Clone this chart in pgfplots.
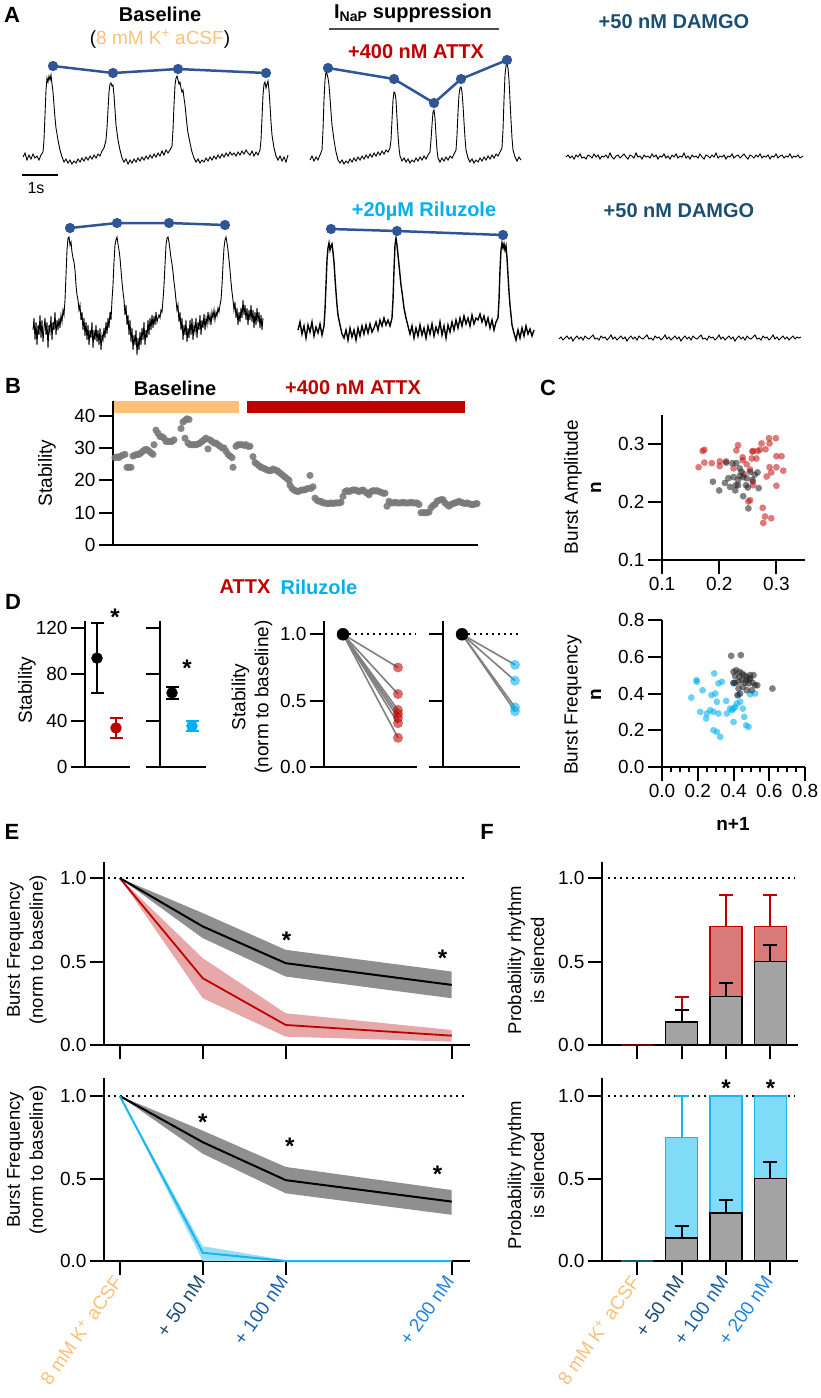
\documentclass[border=0pt]{standalone}
\usepackage{fontspec}
\setmainfont{Liberation Sans}
\usepackage{pgfplots}
\pgfplotsset{compat=1.18}
\newcommand\fs[1]{\fontsize{#1}{#1}\selectfont}
\definecolor{attx}{HTML}{C00000}
\definecolor{rilu}{HTML}{00B0F0}
\definecolor{ora}{HTML}{FDC07A}
\definecolor{damgo}{HTML}{1B4F72}
\definecolor{mblue}{HTML}{2F5597}
\definecolor{cfifty}{HTML}{1B4B6E}
\definecolor{chund}{HTML}{1A5FA8}
\definecolor{ctwo}{HTML}{1E86DE}
\definecolor{gband}{HTML}{8F8F8F}
\definecolor{rband}{HTML}{E6A8A8}
\definecolor{cband}{HTML}{9ADDF6}
\definecolor{gbar}{HTML}{A3A3A3}
\definecolor{rbar}{HTML}{D97A7A}
\definecolor{cbar}{HTML}{80DBF9}
\definecolor{cedge}{HTML}{1AB6F0}
\definecolor{lgray}{HTML}{808080}
\pgfplotsset{
  gp/.style={scale only axis, axis lines=left, axis line style={-, line width=2pt},
    tick style={line width=2pt, black}, tick align=outside, major tick length=14pt,
    tick label style={font=\fs{19}}, clip=false, enlargelimits=false, anchor=south west},
  fbar/.style={ybar, bar width=32pt, bar shift=0pt},
  ebar/.style={error bars/.cd, y dir=plus, y explicit, error bar style={line width=2pt, #1},
    error mark options={rotate=90, mark size=7pt, line width=2pt, #1}},
  dots/.style 2 args={only marks, mark=*, mark size=#1, mark options={fill=#2, draw=#2, fill opacity=0.58, draw opacity=0}},
}
\tikzset{star/.style={font=\fs{24}\bfseries, anchor=base, yshift=-13.5pt, inner sep=0pt},
  dline/.style={line width=2pt, dash pattern=on 1.8pt off 4.2pt},
  twol/.style={rotate=90, align=center, font={\fontsize{18.5}{23}\selectfont}}}
\begin{document}
\begin{tikzpicture}
\path[use as bounding box] (0pt,0pt) rectangle (820pt,-1398pt);
% ================= A
\begin{axis}[at={(410pt,-180pt)}, anchor=center, scale only axis, width=820pt, height=360pt,
  xmin=0,xmax=820,ymin=0,ymax=360, y dir=reverse, axis lines=none, clip=false]
\addplot[black, line width=0.9pt] coordinates {(23,157)(25,153)(27,160)(29,155)(31,159)(33,154)(35,158)(37,156)(39,160)(41,155)(43,152)(44,140)(45,115)(46,90)(47,78)(48,82)(49,76)(50,80)(51,75)(52,84)(53,92)(54,105)(55,118)(56,128)(58,140)(60,150)(62,157)(64,162)(66,159)(68,163)(70,160)(72,164)(74,161)(76,163)(78,159)(80,162)(82,158)(84,161)(86,157)(88,160)(90,156)(92,159)(94,155)(96,158)(98,154)(100,156)(102,151)(104,148)(106,140)(107,128)(108,110)(109,92)(110,84)(111,83)(112,86)(113,85)(114,95)(115,110)(116,125)(118,140)(120,150)(122,158)(124,162)(126,159)(128,164)(130,160)(132,163)(134,159)(136,162)(138,158)(140,161)(142,157)(144,160)(146,156)(148,159)(150,155)(152,158)(154,154)(156,157)(158,153)(160,156)(162,151)(164,155)(166,150)(168,153)(170,150)(172,146)(173,130)(174,105)(175,85)(176,78)(177,76)(178,80)(179,84)(180,82)(181,88)(182,92)(183,90)(184,98)(185,105)(186,115)(187,125)(188,133)(190,143)(192,152)(194,158)(196,162)(198,159)(200,163)(202,160)(204,162)(206,158)(208,161)(210,157)(212,160)(214,156)(216,159)(218,155)(220,158)(222,154)(224,157)(226,153)(228,156)(230,152)(232,155)(234,153)(236,156)(238,152)(240,155)(242,151)(244,154)(246,150)(248,153)(250,155)(252,151)(254,156)(256,152)(258,155)(260,150)(261,140)(262,118)(263,95)(264,84)(265,82)(266,88)(267,84)(268,81)(269,90)(270,105)(271,122)(272,135)(274,148)(276,156)(278,160)(280,156)(282,161)(284,157)(286,162)(288,155)};
\addplot[black, line width=0.9pt] coordinates {(310,160)(312,156)(314,161)(316,157)(318,160)(320,155)(322,150)(323,130)(324,100)(325,80)(326,72)(327,74)(328,78)(329,85)(330,98)(331,112)(332,125)(334,140)(336,152)(338,160)(340,163)(342,160)(344,164)(346,161)(348,163)(350,159)(352,162)(354,158)(356,161)(358,157)(360,160)(362,156)(364,159)(366,155)(368,158)(370,154)(372,157)(374,153)(376,156)(378,152)(380,155)(382,151)(384,154)(386,150)(388,152)(390,148)(391,140)(392,120)(393,100)(394,92)(395,93)(396,100)(397,118)(398,135)(399,148)(400,156)(402,161)(404,158)(406,162)(408,159)(410,163)(412,160)(414,162)(416,158)(418,161)(420,157)(422,160)(424,156)(426,159)(428,155)(430,152)(431,140)(432,125)(433,112)(434,110)(435,118)(436,135)(437,150)(438,158)(440,162)(442,158)(444,161)(446,157)(448,160)(450,156)(452,158)(454,154)(456,150)(457,135)(458,112)(459,95)(460,88)(461,87)(462,92)(463,105)(464,122)(465,138)(466,150)(468,158)(470,162)(472,159)(474,163)(476,160)(478,162)(480,158)(482,161)(484,157)(486,160)(488,156)(490,159)(492,155)(494,158)(496,154)(498,156)(500,152)(502,148)(503,130)(504,100)(505,75)(506,66)(507,63)(508,68)(509,80)(510,100)(511,120)(512,138)(513,150)(515,157)(517,161)(519,157)(521,160)};
\addplot[black, line width=0.9pt] coordinates {(566,157)(568,155)(570,158)(572,156)(574,159)(576,155)(578,157)(580,154)(582,158)(584,157)(586,159)(588,155)(590,156)(592,158)(594,154)(596,157)(598,155)(600,159)(602,156)(604,157)(606,155)(608,158)(610,153)(612,157)(614,159)(616,156)(618,155)(620,158)(622,156)(624,154)(626,157)(628,159)(630,155)(632,156)(634,158)(636,153)(638,157)(640,156)(642,159)(644,155)(646,157)(648,156)(650,158)(652,154)(654,157)(656,155)(658,159)(660,156)(662,157)(664,154)(666,158)(668,156)(670,159)(672,155)(674,157)(676,154)(678,158)(680,156)(682,157)(684,153)(686,158)(688,156)(690,159)(692,155)(694,157)(696,156)(698,158)(700,154)(702,157)(704,159)(706,155)(708,156)(710,158)(712,155)(714,157)(716,153)(718,158)(720,156)(722,157)(724,155)(726,159)(728,156)(730,157)(732,154)(734,158)(736,156)(738,155)(740,158)(742,156)(744,154)(746,157)(748,159)(750,155)(752,156)(754,158)(756,155)(758,157)(760,154)(762,158)(764,156)(766,157)(768,155)(770,159)(772,156)(774,157)(776,154)(778,158)(780,156)(782,155)(784,158)(786,156)(788,157)(790,154)(792,158)(794,156)(796,157)(798,155)(800,158)(803,156)};
\addplot[black, line width=0.9pt] coordinates {(33,330)(34,318)(35,340)(36,322)(37,345)(38,325)(39,335)(40,315)(41,338)(42,320)(43,342)(44,328)(45,318)(46,335)(47,322)(48,348)(49,325)(50,332)(51,316)(52,340)(53,322)(54,330)(55,312)(56,335)(57,320)(58,330)(59,318)(60,328)(61,315)(62,322)(63,310)(64,315)(65,300)(66,275)(67,250)(68,238)(69,237)(70,245)(71,242)(72,252)(73,258)(74,262)(75,270)(76,285)(77,295)(78,300)(79,310)(80,305)(81,320)(82,312)(83,330)(84,318)(85,336)(86,322)(87,340)(88,325)(89,345)(90,330)(91,338)(92,322)(93,348)(94,330)(95,340)(96,325)(97,342)(98,330)(99,345)(100,328)(101,350)(102,335)(103,340)(104,328)(105,338)(106,322)(107,334)(108,318)(109,328)(110,312)(111,320)(112,300)(113,285)(114,262)(115,245)(116,240)(117,237)(118,244)(119,250)(120,258)(121,270)(122,282)(123,292)(124,300)(125,315)(126,305)(127,325)(128,315)(129,335)(130,320)(131,342)(132,328)(133,350)(134,335)(135,345)(136,330)(137,355)(138,338)(139,350)(140,332)(141,345)(142,328)(143,340)(144,322)(145,345)(146,330)(147,338)(148,320)(149,335)(150,318)(151,330)(152,315)(153,328)(154,316)(155,325)(156,312)(157,322)(158,318)(159,315)(160,318)(161,310)(162,312)(163,300)(164,285)(165,265)(166,245)(167,238)(168,237)(169,242)(170,250)(171,258)(172,264)(173,272)(174,282)(175,290)(176,300)(177,310)(178,305)(179,322)(180,312)(181,330)(182,318)(183,340)(184,325)(185,335)(186,320)(187,342)(188,328)(189,338)(190,320)(191,335)(192,318)(193,340)(194,325)(195,332)(196,318)(197,338)(198,322)(199,330)(200,315)(201,335)(202,320)(203,328)(204,314)(205,330)(206,318)(207,325)(208,312)(209,322)(210,315)(211,325)(212,312)(213,318)(214,310)(215,320)(216,312)(217,316)(218,308)(219,312)(220,305)(221,300)(222,285)(223,265)(224,248)(225,240)(226,237)(227,243)(228,250)(229,260)(230,270)(231,282)(232,292)(233,300)(234,310)(235,302)(236,318)(237,308)(238,325)(239,312)(240,322)(241,308)(242,318)(243,300)(244,315)(245,305)(246,320)(247,308)(248,325)(249,310)(250,320)(251,305)(252,322)(253,310)(254,328)(255,312)(256,325)(257,308)(258,322)(259,312)(260,328)(261,315)(262,330)(263,318)};
\addplot[black, line width=1.4pt] coordinates {(298,330)(300,322)(302,334)(304,326)(306,338)(308,325)(310,332)(312,322)(314,336)(316,327)(318,333)(320,324)(322,335)(324,326)(325,310)(326,285)(327,260)(328,248)(329,243)(330,250)(331,246)(332,244)(333,252)(334,262)(335,278)(336,292)(337,305)(338,315)(340,325)(342,334)(344,338)(346,330)(348,340)(350,328)(352,337)(354,330)(356,340)(358,328)(360,336)(362,326)(364,334)(366,325)(368,333)(370,324)(372,332)(374,328)(376,322)(378,330)(380,320)(382,326)(384,318)(386,325)(388,320)(390,326)(392,318)(393,300)(394,270)(395,245)(396,238)(397,245)(398,255)(399,265)(400,275)(401,285)(402,292)(403,300)(404,308)(406,318)(408,326)(410,334)(412,326)(414,338)(416,328)(418,336)(420,325)(422,335)(424,328)(426,338)(428,326)(430,334)(432,324)(434,336)(436,327)(438,333)(440,322)(442,335)(444,326)(446,338)(448,325)(450,332)(452,322)(454,330)(456,320)(458,328)(460,318)(462,326)(464,316)(466,324)(468,318)(470,326)(472,315)(474,324)(476,318)(478,320)(480,314)(482,322)(484,316)(486,325)(488,318)(490,328)(492,320)(494,330)(496,322)(498,318)(499,300)(500,270)(501,250)(502,243)(503,248)(504,244)(505,250)(506,246)(507,258)(508,275)(509,292)(510,305)(511,315)(512,325)(514,333)(516,340)(518,330)(520,338)(522,328)(524,336)(526,326)(528,334)(530,329)(532,336)(534,330)};
\addplot[black, line width=0.9pt] coordinates {(559,339)(561,337)(563,340)(565,338)(567,336)(569,339)(571,337)(573,341)(575,338)(577,336)(579,339)(581,337)(583,340)(585,336)(587,338)(589,339)(591,337)(593,335)(595,339)(597,338)(599,340)(601,336)(603,338)(605,337)(607,340)(609,338)(611,335)(613,339)(615,337)(617,340)(619,338)(621,336)(623,339)(625,337)(627,341)(629,338)(631,336)(633,339)(635,337)(637,340)(639,336)(641,338)(643,339)(645,337)(647,335)(649,339)(651,338)(653,340)(655,336)(657,338)(659,337)(661,340)(663,338)(665,335)(667,339)(669,337)(671,340)(673,338)(675,336)(677,339)(679,337)(681,341)(683,338)(685,336)(687,339)(689,337)(691,340)(693,336)(695,338)(697,339)(699,337)(701,335)(703,339)(705,338)(707,340)(709,336)(711,338)(713,337)(715,340)(717,338)(719,335)(721,339)(723,337)(725,340)(727,338)(729,336)(731,339)(733,337)(735,341)(737,338)(739,336)(741,339)(743,337)(745,340)(747,336)(749,338)(751,339)(753,337)(755,335)(757,339)(759,338)(761,340)(763,336)(765,338)(767,337)(769,340)(771,338)(773,335)(775,339)(777,337)(779,340)(781,338)(783,336)(785,339)(787,337)(789,340)(791,338)(793,336)(795,339)(797,337)(799,338)(801,337)};
\addplot[mblue, line width=2.5pt, mark=*, mark size=3.8pt] coordinates {(53,66)(113,73)(178,69)(266,73)};
\addplot[mblue, line width=2.5pt, mark=*, mark size=3.8pt] coordinates {(328,68)(394,79)(434,103)(461,79)(507,60)};
\addplot[mblue, line width=2.5pt, mark=*, mark size=3.8pt] coordinates {(70,228)(117,223)(169,223)(225,225)};
\addplot[mblue, line width=2.5pt, mark=*, mark size=3.8pt] coordinates {(331,229)(397,231)(503,235)};
\end{axis}
\node[font=\fs{22}\bfseries] at (12pt,-15pt) {A};
\node[font=\fs{20}\bfseries] at (160pt,-14pt) {Baseline};
\node[font=\fs{19}] at (160pt,-39pt) {(\textcolor{ora}{8 mM K\textsuperscript{+} aCSF})};
\node[font=\fs{20}\bfseries] at (413pt,-13pt) {I\textsubscript{NaP} suppression};
\draw[line width=1.5pt, black!70] (329pt,-29pt) -- (499pt,-29pt);
\node[font=\fs{20}\bfseries, text=attx] at (416pt,-52pt) {+400 nM ATTX};
\node[font=\fs{20}\bfseries, text=damgo] at (674pt,-22pt) {+50 nM DAMGO};
\node[font=\fs{20}\bfseries, text=rilu] at (424pt,-211pt) {+20µM Riluzole};
\node[font=\fs{20}\bfseries, text=damgo] at (679pt,-211pt) {+50 nM DAMGO};
\draw[line width=2pt] (22pt,-175pt) -- (58pt,-175pt);
\node[font=\fs{16}] at (36pt,-188pt) {1s};
% ================= B
\node[font=\fs{22}\bfseries] at (13pt,-386pt) {B};
\node[font=\fs{20}\bfseries] at (175pt,-388pt) {Baseline};
\node[font=\fs{20}\bfseries, text=attx] at (353pt,-388pt) {+400 nM ATTX};
\fill[ora] (113pt,-401pt) rectangle (239pt,-413pt);
\fill[attx] (247pt,-401pt) rectangle (465pt,-413pt);
\node[font=\fs{19}, rotate=90] at (47pt,-473pt) {Stability};
\begin{axis}[gp, at={(113pt,-545pt)}, width=365pt, height=144pt, xmin=113, xmax=478, ymin=0, ymax=44.5,
  xtick=\empty, ytick={0,10,20,30,40}, yticklabels={0,10,20,30,40}]
\addplot[only marks, mark=*, mark size=3.6pt, mark options={fill=black!52, draw=black!52, fill opacity=0.9, draw opacity=0}] coordinates {(115,27)(117,27.2)(119,27)(121,27.5)(123,27.8)(125,28)(127,24)(129,24)(131,24)(133,27.5)(135,27.8)(137,28)(139,28)(141,28.5)(143,29)(145,29.5)(147,29.5)(149,29)(151,28.5)(153,28)(154,31)(156,35.5)(158,34.5)(160,33.5)(162,33.5)(164,33)(166,32)(168,32)(170,32)(172,32)(174,32.5)(181,36)(183,38)(185,38.5)(187,39)(189,38.8)(185,33)(188,31.5)(190,31)(192,31)(194,31)(196,31)(198,31.2)(200,31.5)(202,32)(204,32.5)(206,33)(208,29.7)(210,32.5)(212,32)(214,31.5)(216,31.5)(218,31)(220,30.5)(222,30)(224,30)(226,29)(228,28)(230,27.5)(232,27)(233,24)(236,30.5)(238,31)(240,31)(242,31)(244,30.8)(246,31)(248,30.5)(250,30.5)(253,27.3)(255,25.5)(257,25)(259,24.5)(261,24)(263,23.8)(265,23.5)(267,23.2)(269,23)(271,23)(273,23.5)(275,23.2)(277,23)(279,22.5)(281,22)(283,21.5)(285,21)(287,20.5)(289,20)(290,18.5)(292,17.5)(294,17)(296,16.7)(298,16.5)(300,16.8)(302,17)(304,17)(306,17.2)(308,17.5)(310,21.5)(311,17.5)(313,18)(315,14.5)(317,13.8)(319,13.5)(321,13.5)(323,13)(325,13)(327,12.8)(329,12.8)(331,13)(333,12.8)(335,13)(337,13)(339,13)(341,13.2)(343,15)(345,16.5)(347,16.8)(349,16.5)(351,16.8)(353,17)(355,17)(357,16.8)(359,16.5)(361,16.8)(363,17)(365,16.5)(367,16)(369,15.5)(371,16.5)(373,16.8)(375,16.7)(377,16.8)(379,16.5)(381,16.3)(383,16)(385,16)(387,12)(389,13.5)(391,13)(393,13)(395,13.2)(397,13)(399,13)(401,13)(403,13.2)(405,13)(407,13)(409,13)(411,13.2)(413,13)(415,13)(417,13)(419,12.5)(421,10)(423,10)(425,10)(427,10)(429,10.2)(431,11.5)(433,12.2)(435,12.5)(437,13.5)(439,13.8)(441,14)(443,14)(445,13)(447,12.5)(449,12)(451,12.5)(453,12.8)(455,13)(457,13.2)(459,13.5)(461,13.2)(463,13)(465,12.8)(467,13)(469,12.8)(471,12.5)(473,12.5)(475,12.7)(477,12.8)};
\end{axis}
% ================= C
\node[font=\fs{22}\bfseries] at (548pt,-388pt) {C};
\node[font=\fs{19}, rotate=90] at (573pt,-487pt) {Burst Amplitude};
\node[font=\fs{19}\bfseries, rotate=90] at (596pt,-488pt) {n};
\begin{axis}[gp, at={(662pt,-560pt)}, width=143pt, height=145pt, xmin=0.1, xmax=0.35, ymin=0.1, ymax=0.35,
  xtick={0.1,0.2,0.3}, xticklabels={0.1,0.2,0.3}, ytick={0.1,0.2,0.3}, yticklabels={0.1,0.2,0.3}]
\addplot[dots={3.4pt}{attx!90!white}] coordinates {(0.164,0.260)(0.171,0.288)(0.174,0.290)(0.174,0.268)(0.187,0.267)(0.201,0.262)(0.201,0.270)(0.212,0.270)(0.225,0.258)(0.233,0.298)(0.230,0.289)(0.241,0.272)(0.248,0.265)(0.254,0.256)(0.257,0.275)(0.258,0.287)(0.259,0.288)(0.267,0.288)(0.271,0.290)(0.274,0.301)(0.281,0.291)(0.287,0.310)(0.288,0.301)(0.299,0.310)(0.300,0.279)(0.309,0.279)(0.288,0.260)(0.300,0.260)(0.312,0.254)(0.291,0.251)(0.283,0.244)(0.259,0.235)(0.259,0.229)(0.300,0.228)(0.254,0.203)(0.251,0.201)(0.276,0.190)(0.280,0.175)(0.291,0.172)(0.277,0.164)(0.243,0.248)(0.241,0.277)(0.265,0.275)};
\addplot[dots={3.4pt}{black!85}] coordinates {(0.189,0.235)(0.200,0.220)(0.210,0.233)(0.212,0.268)(0.223,0.267)(0.230,0.267)(0.236,0.258)(0.225,0.243)(0.219,0.226)(0.228,0.220)(0.233,0.229)(0.242,0.243)(0.239,0.252)(0.248,0.241)(0.254,0.252)(0.262,0.247)(0.267,0.251)(0.258,0.238)(0.250,0.225)(0.242,0.210)(0.269,0.224)(0.251,0.189)(0.229,0.229)(0.236,0.245)(0.216,0.241)(0.247,0.229)(0.233,0.238)};
\end{axis}
\node[font=\fs{19}, rotate=90] at (573pt,-705pt) {Burst Frequency};
\node[font=\fs{19}\bfseries, rotate=90] at (596pt,-695pt) {n};
\node[font=\fs{19}\bfseries] at (733pt,-824pt) {n+1};
\begin{axis}[gp, at={(662pt,-767pt)}, width=143pt, height=147pt, xmin=0, xmax=0.8, ymin=0, ymax=0.8,
  xtick={0,0.2,0.4,0.6,0.8}, xticklabels={0.0,0.2,0.4,0.6,0.8}, minor x tick num=3, minor tick length=5pt,
  ytick={0,0.2,0.4,0.6,0.8}, yticklabels={0.0,0.2,0.4,0.6,0.8}]
\addplot[dots={3.4pt}{rilu}] coordinates {(0.164,0.378)(0.195,0.464)(0.193,0.473)(0.227,0.418)(0.214,0.300)(0.247,0.264)(0.270,0.309)(0.277,0.391)(0.298,0.400)(0.292,0.509)(0.307,0.355)(0.316,0.291)(0.316,0.455)(0.335,0.464)(0.359,0.360)(0.363,0.291)(0.381,0.318)(0.391,0.309)(0.400,0.245)(0.400,0.318)(0.409,0.327)(0.419,0.345)(0.437,0.355)(0.452,0.318)(0.460,0.273)(0.471,0.227)(0.484,0.218)(0.493,0.396)(0.521,0.400)(0.288,0.200)(0.307,0.191)(0.326,0.164)(0.251,0.291)(0.288,0.300)(0.428,0.391)(0.400,0.455)};
\addplot[dots={3.4pt}{black!85}] coordinates {(0.387,0.605)(0.441,0.609)(0.400,0.518)(0.414,0.527)(0.433,0.518)(0.447,0.509)(0.460,0.500)(0.474,0.491)(0.493,0.500)(0.512,0.500)(0.490,0.476)(0.471,0.473)(0.447,0.473)(0.428,0.464)(0.409,0.458)(0.400,0.458)(0.428,0.427)(0.452,0.436)(0.484,0.455)(0.507,0.458)(0.521,0.445)(0.533,0.445)(0.437,0.400)(0.422,0.391)(0.618,0.427)(0.502,0.418)(0.474,0.418)(0.465,0.458)(0.493,0.482)(0.409,0.495)(0.433,0.491)};
\end{axis}
% ================= D
\node[font=\fs{22}\bfseries] at (13pt,-602pt) {D};
\node[font=\fs{20}\bfseries, text=attx] at (245pt,-587pt) {ATTX};
\node[font=\fs{20}\bfseries, text=rilu] at (319pt,-587pt) {Riluzole};
\node[font=\fs{19}, rotate=90] at (27pt,-690pt) {Stability};
\begin{axis}[gp, at={(85pt,-767pt)}, width=45pt, height=146pt, xmin=0, xmax=45, ymin=0, ymax=126,
  xtick=\empty, ytick={0,40,80,120}, yticklabels={0,40,80,120}]
\addplot[black, only marks, mark=*, mark size=5.5pt, error bars/.cd, y dir=both, y explicit, error bar style={line width=2pt}, error mark options={rotate=90, mark size=6.5pt, line width=2pt}] coordinates {(12,94) +- (0,30.5)};
\addplot[attx, only marks, mark=*, mark size=5.5pt, error bars/.cd, y dir=both, y explicit, error bar style={line width=2pt}, error mark options={rotate=90, mark size=6.5pt, line width=2pt}] coordinates {(31,33.7) +- (0,8.6)};
\node[star] at (axis cs:30,133.8) {*};
\end{axis}
\begin{axis}[gp, at={(160pt,-767pt)}, width=46pt, height=146pt, xmin=0, xmax=46, ymin=0, ymax=126,
  xtick=\empty, ytick={0,40,80,120}, yticklabels={}]
\addplot[black, only marks, mark=*, mark size=5.5pt, error bars/.cd, y dir=both, y explicit, error bar style={line width=2pt}, error mark options={rotate=90, mark size=6.5pt, line width=2pt}] coordinates {(12,64) +- (0,5)};
\addplot[rilu, only marks, mark=*, mark size=5.5pt, error bars/.cd, y dir=both, y explicit, error bar style={line width=2pt}, error mark options={rotate=90, mark size=6.5pt, line width=2pt}] coordinates {(32,35.4) +- (0,4)};
\node[star] at (axis cs:27,89.8) {*};
\end{axis}
\node[rotate=90, align=center, font={\fontsize{19}{23}\selectfont}] at (252pt,-697pt) {Stability\\(norm to baseline)};
\begin{axis}[gp, at={(324pt,-767pt)}, width=93pt, height=146pt, xmin=0, xmax=93, ymin=0, ymax=1.1,
  xtick=\empty, ytick={0,0.5,1}, yticklabels={0.0,0.5,1.0}]
\draw[dline] (axis cs:19,1) -- (axis cs:92,1);
\addplot[lgray, line width=1.6pt] coordinates {(19,1)(74,0.75)};
\addplot[lgray, line width=1.6pt] coordinates {(19,1)(74,0.55)};
\addplot[lgray, line width=1.6pt] coordinates {(19,1)(74,0.43)};
\addplot[lgray, line width=1.6pt] coordinates {(19,1)(74,0.40)};
\addplot[lgray, line width=1.6pt] coordinates {(19,1)(74,0.37)};
\addplot[lgray, line width=1.6pt] coordinates {(19,1)(74,0.33)};
\addplot[lgray, line width=1.6pt] coordinates {(19,1)(74,0.22)};
\addplot[dots={5pt}{attx}] coordinates {(74,0.75)(74,0.55)(74,0.43)(74,0.40)(74,0.37)(74,0.33)(74,0.22)};
\addplot[only marks, mark=*, mark size=6pt, black] coordinates {(19,1)};
\end{axis}
\begin{axis}[gp, at={(443pt,-767pt)}, width=77pt, height=146pt, xmin=0, xmax=77, ymin=0, ymax=1.1,
  xtick=\empty, ytick={0,0.5,1}, yticklabels={}]
\draw[dline] (axis cs:19,1) -- (axis cs:77,1);
\addplot[lgray, line width=1.6pt] coordinates {(19,1)(72,0.77)};
\addplot[lgray, line width=1.6pt] coordinates {(19,1)(72,0.65)};
\addplot[lgray, line width=1.6pt] coordinates {(19,1)(72,0.45)};
\addplot[lgray, line width=1.6pt] coordinates {(19,1)(72,0.42)};
\addplot[dots={5pt}{rilu}] coordinates {(72,0.77)(72,0.65)(72,0.45)(72,0.42)};
\addplot[only marks, mark=*, mark size=6pt, black] coordinates {(19,1)};
\end{axis}
% ================= E
\node[font=\fs{22}\bfseries] at (12pt,-832pt) {E};
\node[twol] at (27pt,-950pt) {Burst Frequency\\(norm to baseline)};
\begin{axis}[gp, at={(104pt,-1045pt)}, width=366pt, height=183pt, xmin=-0.19, xmax=4.22, ymin=0, ymax=1.096,
  xtick={0,1,2,4}, xticklabels={}, ytick={0,0.5,1}, yticklabels={0.0,0.5,1.0}]
\draw[dline] (axis cs:-0.14,1) -- (axis cs:4.19,1);
\addplot[fill=rband, draw=none] coordinates {(0,1)(1,0.52)(2,0.19)(4,0.09)(4,0.02)(2,0.05)(1,0.28)(0,1)};
\addplot[attx, line width=1.8pt] coordinates {(0,1)(1,0.40)(2,0.12)(4,0.056)};
\addplot[fill=gband, draw=none] coordinates {(0,1)(1,0.79)(2,0.57)(4,0.44)(4,0.28)(2,0.41)(1,0.64)(0,1)};
\addplot[black, line width=2pt] coordinates {(0,1)(1,0.71)(2,0.49)(4,0.36)};
\node[star] at (axis cs:2.01,0.66) {*};
\node[star] at (axis cs:3.89,0.55) {*};
\end{axis}
\node[twol] at (27pt,-1160pt) {Burst Frequency\\(norm to baseline)};
\begin{axis}[gp, at={(104pt,-1261pt)}, width=366pt, height=183pt, xmin=-0.19, xmax=4.22, ymin=0, ymax=1.109,
  xtick={0,1,2,4}, ytick={0,0.5,1}, yticklabels={0.0,0.5,1.0},
  xticklabels={{\color{ora}8 mM K\textsuperscript{+} aCSF},{\color{cfifty}+ 50 nM},{\color{chund}+ 100 nM},{\color{ctwo}+ 200 nM}},
  xticklabel style={rotate=55, anchor=east, font=\fs{19}}]
\draw[dline] (axis cs:-0.14,1) -- (axis cs:4.19,1);
\addplot[fill=cband, draw=none] coordinates {(0,1)(1,0.09)(2,0.005)(4,0.005)(4,0)(2,0)(1,0)(0,1)};
\addplot[fill=gband, draw=none] coordinates {(0,1)(1,0.79)(2,0.57)(4,0.43)(4,0.28)(2,0.41)(1,0.65)(0,1)};
\addplot[black, line width=2pt] coordinates {(0,1)(1,0.72)(2,0.49)(4,0.36)};
\addplot[cedge, line width=2pt] coordinates {(0,1)(1,0.05)(2,0)(4,0)};
\node[star] at (axis cs:1.0,0.87) {*};
\node[star] at (axis cs:2.05,0.73) {*};
\node[star] at (axis cs:3.83,0.56) {*};
\end{axis}
% ================= F
\node[font=\fs{22}\bfseries] at (487pt,-832pt) {F};
\node[twol] at (526pt,-960pt) {Probability rhythm\\is silenced};
\begin{axis}[gp, at={(602pt,-1045pt)}, width=196pt, height=183pt, xmin=-0.79, xmax=3.62, ymin=0, ymax=1.096,
  xtick={0,1,2,3}, xticklabels={}, ytick={0,0.5,1}, yticklabels={0.0,0.5,1.0}]
\draw[dline] (axis cs:-0.65,1) -- (axis cs:3.56,1);
\addplot[fbar, fill=rbar, draw=attx!60!black, line width=1.5pt] coordinates {(0,0)};
\addplot[fbar, fill=rbar, draw=attx, line width=1.5pt, ebar=attx] coordinates {(1,0.14) +- (0,0.15) (2,0.71) +- (0,0.19) (3,0.71) +- (0,0.19)};
\addplot[fbar, fill=gbar, draw=black, line width=1.8pt, ebar=black] coordinates {(1,0.14) +- (0,0.07) (2,0.29) +- (0,0.08) (3,0.50) +- (0,0.10)};
\end{axis}
\node[twol] at (526pt,-1175pt) {Probability rhythm\\is silenced};
\begin{axis}[gp, at={(602pt,-1261pt)}, width=196pt, height=183pt, xmin=-0.79, xmax=3.62, ymin=0, ymax=1.109,
  xtick={0,1,2,3}, ytick={0,0.5,1}, yticklabels={0.0,0.5,1.0},
  xticklabels={{\color{ora}8 mM K\textsuperscript{+} aCSF},{\color{cfifty}+ 50 nM},{\color{chund}+ 100 nM},{\color{ctwo}+ 200 nM}},
  xticklabel style={rotate=55, anchor=east, font=\fs{19}}]
\draw[dline] (axis cs:-0.65,1) -- (axis cs:3.56,1);
\addplot[fbar, fill=cbar, draw=cedge!50!black, line width=1.5pt] coordinates {(0,0)};
\addplot[fbar, fill=cbar, draw=cedge, line width=1.5pt] coordinates {(2,1.0)(3,1.0)};
\addplot[fbar, fill=cbar, draw=cedge, line width=1.5pt, ebar=cedge] coordinates {(1,0.75) +- (0,0.25)};
\addplot[fbar, fill=gbar, draw=black, line width=1.8pt, ebar=black] coordinates {(1,0.14) +- (0,0.07) (2,0.29) +- (0,0.08) (3,0.50) +- (0,0.10)};
\node[star] at (axis cs:2,1.08) {*};
\node[star] at (axis cs:3,1.08) {*};
\end{axis}
\end{tikzpicture}
\end{document}
